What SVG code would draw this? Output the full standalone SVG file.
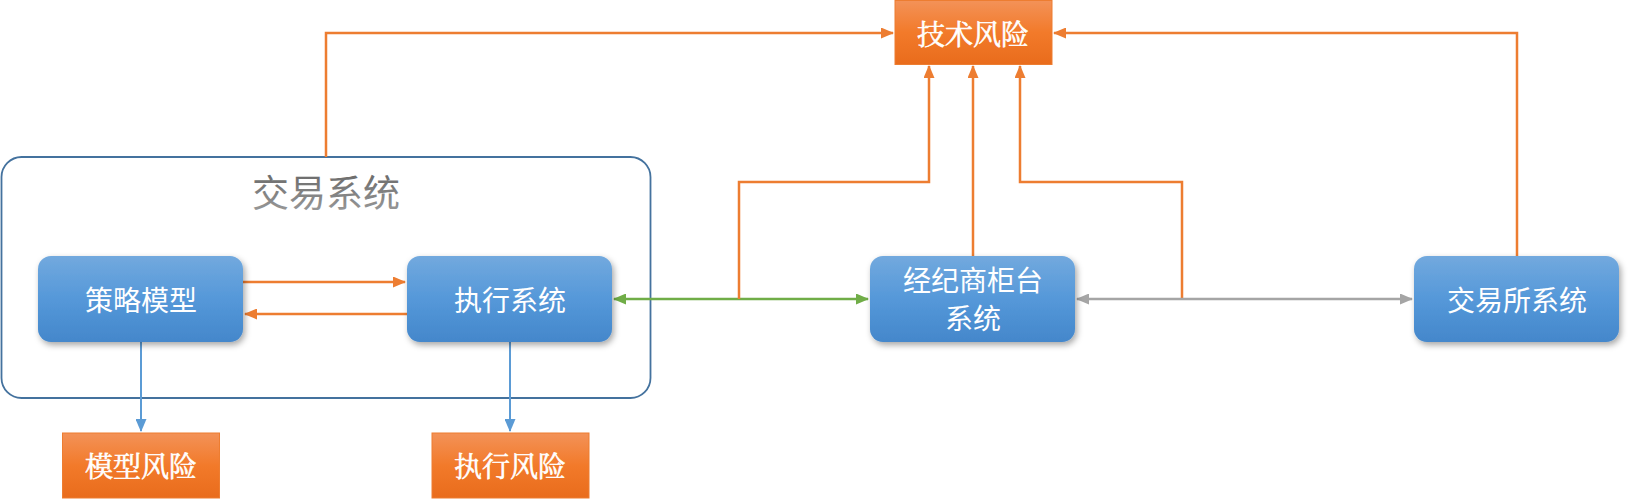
<svg xmlns="http://www.w3.org/2000/svg" width="1630" height="501" viewBox="0 0 1630 501">
<style>
  .node text, .risk text { font-family: "Noto Sans CJK SC", "Noto Sans", sans-serif; fill: #ffffff; font-size: 28px; text-anchor: middle; dominant-baseline: central; }
  .risk text { font-family: "Noto Serif CJK SC", "Noto Sans CJK SC", serif; font-weight: normal; font-size: 28px; stroke: #ffffff; stroke-width: 0.6; }
  .bn { fill: url(#gBlue); filter: url(#shadow); }
  .rk { fill: url(#gOrange); stroke: #ED7D31; stroke-width: 1; }
  .co { fill: none; stroke: #ED7D31; stroke-width: 2.5; }
  .cb { fill: none; stroke: #5B9BD5; stroke-width: 2; }
  .cg { fill: none; stroke: #70AD47; stroke-width: 2.5; }
  .cgr { fill: none; stroke: #A5A5A5; stroke-width: 2.5; }
</style>
<defs>
  <linearGradient id="gBlue" x1="0" y1="0" x2="0" y2="1">
    <stop offset="0" stop-color="#72A9DE"/>
    <stop offset="0.5" stop-color="#5598D9"/>
    <stop offset="1" stop-color="#4487CB"/>
  </linearGradient>
  <linearGradient id="gOrange" x1="0" y1="0" x2="0" y2="1">
    <stop offset="0" stop-color="#F39258"/>
    <stop offset="0.5" stop-color="#F27A2A"/>
    <stop offset="1" stop-color="#E96C1C"/>
  </linearGradient>
  <linearGradient id="gTitle" x1="0" y1="0" x2="0" y2="1">
    <stop offset="0" stop-color="#5f5f5f"/>
    <stop offset="1" stop-color="#a0a0a0"/>
  </linearGradient>
  <filter id="shadow" x="-10%" y="-10%" width="125%" height="135%">
    <feDropShadow dx="2" dy="3" stdDeviation="3" flood-color="#000" flood-opacity="0.35"/>
  </filter>
  <marker id="aO" markerUnits="userSpaceOnUse" markerWidth="13" markerHeight="11" refX="12" refY="5.5" orient="auto-start-reverse"><path d="M0,0 L13,5.5 L0,11 Z" fill="#ED7D31"/></marker>
  <marker id="aB" markerUnits="userSpaceOnUse" markerWidth="13" markerHeight="11" refX="12" refY="5.5" orient="auto-start-reverse"><path d="M0,0 L13,5.5 L0,11 Z" fill="#5B9BD5"/></marker>
  <marker id="aG" markerUnits="userSpaceOnUse" markerWidth="13" markerHeight="11" refX="12" refY="5.5" orient="auto-start-reverse"><path d="M0,0 L13,5.5 L0,11 Z" fill="#70AD47"/></marker>
  <marker id="aGr" markerUnits="userSpaceOnUse" markerWidth="13" markerHeight="11" refX="12" refY="5.5" orient="auto-start-reverse"><path d="M0,0 L13,5.5 L0,11 Z" fill="#A5A5A5"/></marker>
</defs>

<g id="trading-system">
  <rect x="1.5" y="157" width="649" height="241" rx="20" fill="none" stroke="#44729E" stroke-width="1.8"/>
  <text x="326" y="191" font-family="Noto Sans CJK SC, Noto Sans, sans-serif" font-size="37" fill="url(#gTitle)" text-anchor="middle" dominant-baseline="central">交易系统</text>
</g>

<g id="connectors">
  <path class="co" d="M326,157 V33 H893" marker-end="url(#aO)"/>
  <path class="co" d="M1517,256 V33 H1054" marker-end="url(#aO)"/>
  <path class="co" d="M243,282 H405" marker-end="url(#aO)"/>
  <path class="co" d="M407,314 H245" marker-end="url(#aO)"/>
  <path class="cg" d="M614,299 H868" marker-start="url(#aG)" marker-end="url(#aG)"/>
  <path class="co" d="M739,299 V182 H929 V66" marker-end="url(#aO)"/>
  <path class="co" d="M973,256 V66" marker-end="url(#aO)"/>
  <path class="co" d="M1182,299 V182 H1020 V66" marker-end="url(#aO)"/>
  <path class="cgr" d="M1077,299 H1412" marker-start="url(#aGr)" marker-end="url(#aGr)"/>
  <path class="cb" d="M141,342 V431" marker-end="url(#aB)"/>
  <path class="cb" d="M510,342 V431" marker-end="url(#aB)"/>
</g>

<g id="tech-risk" class="risk">
  <rect class="rk" x="895" y="0.5" width="157" height="64"/>
  <text x="973" y="33">技术风险</text>
</g>
<g id="strategy-model" class="node">
  <rect class="bn" x="38" y="256" width="205" height="86" rx="13"/>
  <text x="141" y="299">策略模型</text>
</g>
<g id="execution-system" class="node">
  <rect class="bn" x="407" y="256" width="205" height="86" rx="13"/>
  <text x="510" y="299">执行系统</text>
</g>
<g id="broker-counter" class="node">
  <rect class="bn" x="870" y="256" width="205" height="86" rx="13"/>
  <text x="973" y="279">经纪商柜台</text>
  <text x="973" y="317">系统</text>
</g>
<g id="exchange-system" class="node">
  <rect class="bn" x="1414" y="256" width="205" height="86" rx="13"/>
  <text x="1517" y="299">交易所系统</text>
</g>
<g id="model-risk" class="risk">
  <rect class="rk" x="62.5" y="433" width="157" height="65"/>
  <text x="141" y="465">模型风险</text>
</g>
<g id="execution-risk" class="risk">
  <rect class="rk" x="432" y="433" width="157" height="65"/>
  <text x="510" y="465">执行风险</text>
</g>
</svg>
